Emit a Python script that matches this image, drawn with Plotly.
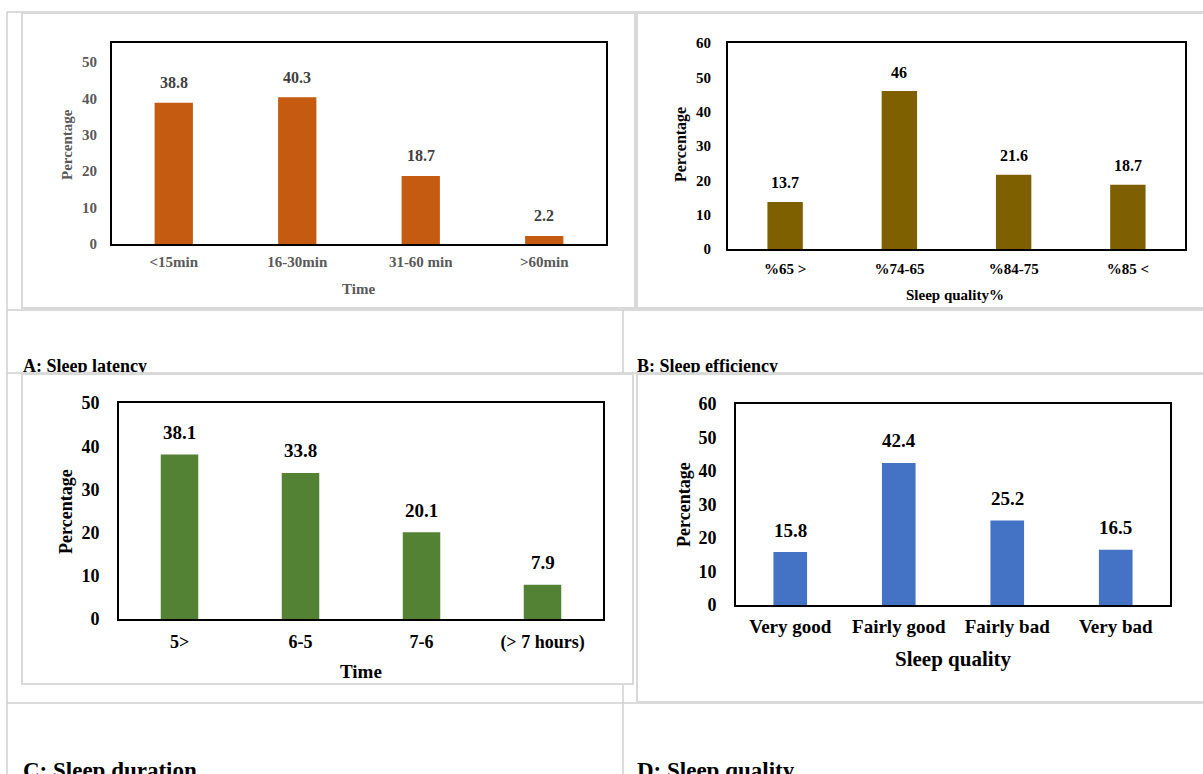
import plotly.graph_objects as go

# ---- data -------------------------------------------------------------
latency_cats = ["<15min", "16-30min", "31-60 min", ">60min"]
latency_vals = [38.8, 40.3, 18.7, 2.2]

efficiency_cats = ["%65 >", "%74-65", "%84-75", "%85 <"]
efficiency_vals = [13.7, 46, 21.6, 18.7]

duration_cats = ["5>", "6-5", "7-6", "(> 7 hours)"]
duration_vals = [38.1, 33.8, 20.1, 7.9]

quality_cats = ["Very good", "Fairly good", "Fairly bad", "Very bad"]
quality_vals = [15.8, 42.4, 25.2, 16.5]

captions = ["A: Sleep latency", "B: Sleep efficiency", "C: Sleep duration", "D: Sleep quality"]

# ---- page geometry (pixels -> paper) -----------------------------------
W, H = 1203, 774
SERIF = "Liberation Serif"


def fx(p):
    return p / W


def fy(p):
    return 1 - p / H


def bold(size, color="black"):
    return dict(family=SERIF, size=size, color=color, weight="bold")


GRAY = "#595959"

panels = [
    dict(cats=latency_cats, vals=latency_vals, color="#C55A11",
         box=(112, 606, 43, 244), yrange=[0, 55.2], dtick=10,
         tick_font=bold(15, GRAY), cat_font=bold(15, GRAY), lab_font=bold(16, "#404040"),
         ytitle=("Percentage", 67, 145, bold(15, GRAY)),
         xtitle=("Time", 358, 289, bold(15, GRAY)),
         ystand=10, xstand=3, lab_shift=20),
    dict(cats=efficiency_cats, vals=efficiency_vals, color="#7F6000",
         box=(728, 1185, 43, 249), yrange=[0, 60], dtick=10,
         tick_font=bold(15), cat_font=bold(15), lab_font=bold(16),
         ytitle=("Percentage", 681, 145, bold(16)),
         xtitle=("Sleep quality%", 955, 295, bold(15)),
         ystand=12, xstand=5, lab_shift=19),
    dict(cats=duration_cats, vals=duration_vals, color="#548235",
         box=(119, 603, 403, 619), yrange=[0, 50], dtick=10,
         tick_font=bold(18), cat_font=bold(18), lab_font=bold(19),
         ytitle=("Percentage", 66, 512, bold(18)),
         xtitle=("Time", 361, 671, bold(19)),
         ystand=14, xstand=5, lab_shift=22),
    dict(cats=quality_cats, vals=quality_vals, color="#4472C4",
         box=(736, 1170, 404, 605), yrange=[0, 60], dtick=10,
         tick_font=bold(18), cat_font=bold(19), lab_font=bold(19),
         ytitle=("Percentage", 684, 505, bold(18)),
         xtitle=("Sleep quality", 953, 659, bold(21)),
         ystand=14, xstand=3, lab_shift=22),
]

fig = go.Figure()
annotations = []
layout_axes = {}

for i, p in enumerate(panels, start=1):
    xa = "x" if i == 1 else f"x{i}"
    ya = "y" if i == 1 else f"y{i}"
    fig.add_trace(go.Bar(
        x=p["cats"], y=p["vals"], xaxis=xa, yaxis=ya,
        marker=dict(color=p["color"], line=dict(width=0)),
        width=0.31, showlegend=False, hoverinfo="x+y",
    ))
    # value labels above each bar
    for c, v in zip(p["cats"], p["vals"]):
        annotations.append(dict(
            x=c, y=v, xref=xa, yref=ya, text=f"{v:g}", showarrow=False,
            yanchor="middle", yshift=p["lab_shift"], font=p["lab_font"],
        ))
    x0, x1, y0, y1 = p["box"]
    xkey = "xaxis" if i == 1 else f"xaxis{i}"
    ykey = "yaxis" if i == 1 else f"yaxis{i}"
    layout_axes[xkey] = dict(
        domain=[fx(x0), fx(x1)], anchor=ya, type="category",
        range=[-0.5, len(p["cats"]) - 0.5],
        showline=True, linecolor="black", linewidth=2, mirror=True,
        showgrid=False, zeroline=False, ticks="", automargin=False,
        tickfont=p["cat_font"], ticklabelstandoff=p["xstand"], fixedrange=True,
    )
    layout_axes[ykey] = dict(
        domain=[fy(y1), fy(y0)], anchor=xa, range=p["yrange"],
        tick0=0, dtick=p["dtick"],
        showline=True, linecolor="black", linewidth=2, mirror=True,
        showgrid=False, zeroline=False, ticks="", automargin=False,
        tickfont=p["tick_font"], ticklabelstandoff=p["ystand"], fixedrange=True,
    )
    t, tx, ty, tf = p["ytitle"]
    annotations.append(dict(x=fx(tx), y=fy(ty), xref="paper", yref="paper", text=t,
                            textangle=-90, showarrow=False, font=tf,
                            xanchor="center", yanchor="middle"))
    t, tx, ty, tf = p["xtitle"]
    annotations.append(dict(x=fx(tx), y=fy(ty), xref="paper", yref="paper", text=t,
                            showarrow=False, font=tf, xanchor="center", yanchor="middle"))

# caption row under the top panels, clipped by the row below
layout_axes["xaxis5"] = dict(domain=[0, 1], range=[0, W], visible=False, anchor="y5", fixedrange=True)
layout_axes["yaxis5"] = dict(domain=[fy(373), fy(311)], range=[373, 311], visible=False,
                             anchor="x5", fixedrange=True)
fig.add_trace(go.Scatter(
    x=[23, 637], y=[367, 367], xaxis="x5", yaxis="y5", mode="text",
    text=captions[:2], textposition="middle right", cliponaxis=True,
    textfont=bold(18), showlegend=False, hoverinfo="skip",
))
# caption row under the bottom panels, cut by the page edge
layout_axes["xaxis6"] = dict(domain=[0, 1], range=[0, W], visible=False, anchor="y6", fixedrange=True)
layout_axes["yaxis6"] = dict(domain=[0, fy(704)], range=[H, 704], visible=False,
                             anchor="x6", fixedrange=True)
fig.add_trace(go.Scatter(
    x=[23, 637], y=[772, 772], xaxis="x6", yaxis="y6", mode="text",
    text=captions[2:], textposition="middle right", cliponaxis=True,
    textfont=bold(23), showlegend=False, hoverinfo="skip",
))

# table rules and chart frames
GRID = "#CFCFCF"
FRAME = "#D9D9D9"
shapes = []


def hline(y, xa, xb, color=GRID, w=1.5):
    shapes.append(dict(type="line", xref="paper", yref="paper",
                       x0=fx(xa), x1=fx(xb), y0=fy(y), y1=fy(y),
                       line=dict(color=color, width=w)))


def vline(x, ya, yb, color=GRID, w=1.5):
    shapes.append(dict(type="line", xref="paper", yref="paper",
                       x0=fx(x), x1=fx(x), y0=fy(ya), y1=fy(yb),
                       line=dict(color=color, width=w)))


def frame(xa, xb, ya, yb):
    shapes.append(dict(type="rect", xref="paper", yref="paper",
                       x0=fx(xa), x1=fx(xb), y0=fy(yb), y1=fy(ya),
                       line=dict(color=FRAME, width=2), fillcolor="rgba(0,0,0,0)"))


hline(12, 7, W)
vline(7, 12, H)
hline(310, 7, W)
vline(623, 310, 373)
hline(373, 7, W)
hline(703, 7, W)
vline(623, 684, H)
frame(22, 635, 13, 308)
frame(637, W + 5, 13, 308)
frame(22, 633, 374, 684)
frame(637, W + 5, 374, 702)

fig.update_layout(
    width=W, height=H,
    margin=dict(l=0, r=0, t=0, b=0),
    paper_bgcolor="white", plot_bgcolor="white",
    showlegend=False,
    annotations=annotations,
    shapes=shapes,
    **layout_axes,
)

fig.write_html("out.html")
